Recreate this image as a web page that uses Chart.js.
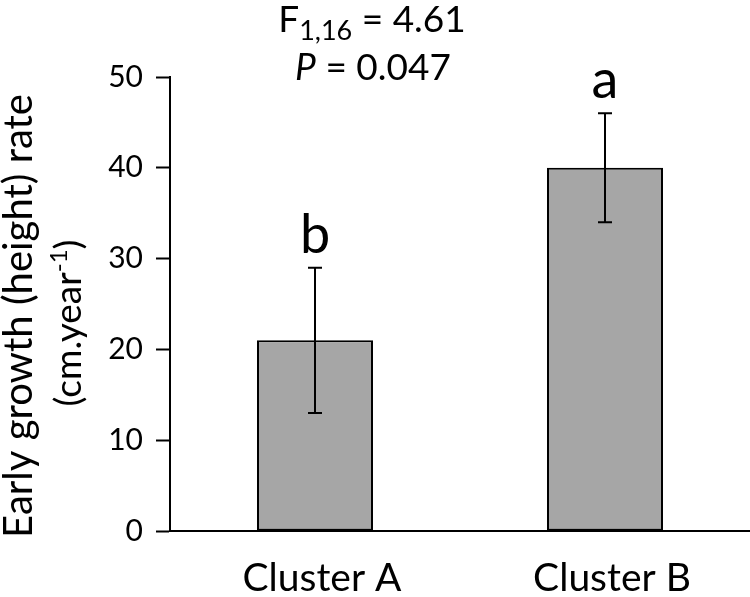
<!DOCTYPE html>
<html>
<head>
<meta charset="utf-8">
<script src="https://cdn.jsdelivr.net/npm/chart.js@4.4.1/dist/chart.umd.min.js"></script>
<style>
  html, body { margin: 0; padding: 0; background: #fff; }
  #wrap { width: 750px; height: 597px; }
</style>
</head>
<body>
<div id="wrap"><canvas id="growthChart" width="750" height="597"></canvas></div>
<script>
// data
const clusters = ['Cluster A', 'Cluster B'];
const growthRate = [21, 40];
const growthErr = [8, 6];
const sigLetters = ['b', 'a'];
const yTicks = [0, 10, 20, 30, 40, 50];

const FONT = 'Lato, "Open Sans", sans-serif';

// error bars + significance letters
const errorBars = {
    id: 'errorBars',
    afterDatasetsDraw(chart) {
        const ctx = chart.ctx;
        const y = chart.scales.y;
        const meta = chart.getDatasetMeta(0);
        ctx.save();
        ctx.strokeStyle = '#000';
        ctx.lineWidth = 2;
        meta.data.forEach((bar, i) => {
            const x = bar.x;
            const hi = y.getPixelForValue(growthRate[i] + growthErr[i]);
            const lo = y.getPixelForValue(growthRate[i] - growthErr[i]);
            ctx.beginPath();
            ctx.moveTo(x, hi); ctx.lineTo(x, lo);
            ctx.moveTo(x - 7, hi); ctx.lineTo(x + 7, hi);
            ctx.moveTo(x - 7, lo); ctx.lineTo(x + 7, lo);
            ctx.stroke();
            ctx.fillStyle = '#000';
            ctx.font = '54px ' + FONT;
            ctx.textAlign = 'center';
            ctx.textBaseline = 'alphabetic';
            ctx.fillText(sigLetters[i], x, hi - 15);
        });
        ctx.restore();
    }
};

// draw a run of text pieces centred on cx
function drawPieces(ctx, pieces, cx, baseline) {
    let total = 0;
    pieces.forEach(p => { ctx.font = p.font; p.w = ctx.measureText(p.t).width; total += p.w; });
    let x = cx - total / 2;
    pieces.forEach(p => {
        ctx.font = p.font;
        ctx.fillText(p.t, x, baseline + (p.dy || 0));
        x += p.w;
    });
}

const annotations = {
    id: 'annotations',
    afterDraw(chart) {
        const ctx = chart.ctx;
        ctx.save();
        ctx.fillStyle = '#000';
        ctx.textAlign = 'left';
        ctx.textBaseline = 'alphabetic';
        // stats title
        drawPieces(ctx, [
            { t: 'F', font: '37px ' + FONT },
            { t: '1,16', font: '27px ' + FONT, dy: 8 },
            { t: ' = 4.61', font: '37px ' + FONT }
        ], 372, 32);
        drawPieces(ctx, [
            { t: 'P', font: 'italic 37px ' + FONT },
            { t: ' = 0.047', font: '37px ' + FONT }
        ], 373, 80);
        // y axis title, two lines
        ctx.save();
        ctx.translate(32, 316);
        ctx.rotate(-Math.PI / 2);
        drawPieces(ctx, [{ t: 'Early growth (height) rate', font: '40px ' + FONT }], 0, 0);
        ctx.restore();
        ctx.save();
        ctx.translate(81, 323);
        ctx.rotate(-Math.PI / 2);
        drawPieces(ctx, [
            { t: '(cm.year', font: '37px ' + FONT },
            { t: '-1', font: '24px ' + FONT, dy: -14 },
            { t: ')', font: '37px ' + FONT }
        ], 0, 0);
        ctx.restore();
        ctx.restore();
    }
};

new Chart(document.getElementById('growthChart'), {
    type: 'bar',
    data: {
        labels: clusters,
        datasets: [{
            data: growthRate,
            backgroundColor: '#a6a6a6',
            borderColor: '#000',
            borderWidth: 2,
            borderSkipped: false,
            categoryPercentage: 1,
            barPercentage: 0.4
        }]
    },
    options: {
        responsive: false,
        animation: false,
        layout: { padding: { top: 77, right: 0, bottom: 0, left: 0 } },
        plugins: { legend: { display: false }, tooltip: { enabled: false } },
        scales: {
            x: {
                afterFit: axis => { axis.height = 66; },
                grid: { display: false, drawTicks: false },
                border: { color: '#000', width: 2 },
                ticks: { color: '#000', font: { family: FONT, size: 39 }, padding: 24, labelOffset: 7 }
            },
            y: {
                min: 0, max: 50,
                afterBuildTicks: axis => { axis.ticks = yTicks.map(v => ({ value: v })); },
                afterFit: axis => { axis.width = 170; },
                grid: { drawOnChartArea: false, tickLength: 14, tickColor: '#000', tickWidth: 2 },
                border: { color: '#000', width: 2 },
                ticks: { color: '#000', font: { family: FONT, size: 30 }, padding: 13 }
            }
        }
    },
    plugins: [errorBars, annotations]
});
</script>
</body>
</html>
